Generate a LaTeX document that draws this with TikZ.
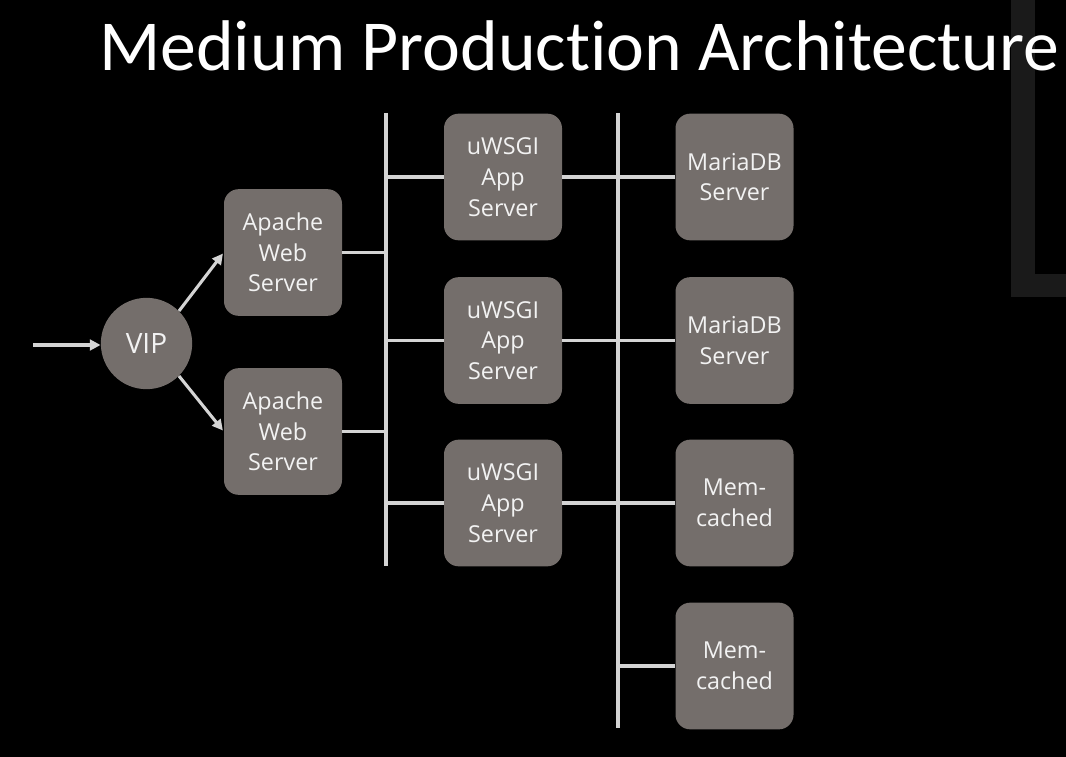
\documentclass[tikz,border=0pt]{standalone}
\usepackage{fontspec}
\setmainfont{Open Sans}
\newfontfamily\titlefont[Ligatures={NoCommon}]{Carlito}
\usetikzlibrary{arrows.meta}
\definecolor{boxgray}{RGB}{116,110,107}
\definecolor{linegray}{RGB}{212,212,212}
\definecolor{txtwhite}{RGB}{242,242,242}
\definecolor{framegray}{RGB}{26,26,26}
\tikzset{
  srv/.style={rectangle, rounded corners=11pt, fill=boxgray, draw=none,
    minimum width=88.5pt, minimum height=95pt, align=center, inner sep=0pt,
    text=txtwhite, font=\fontsize{17.5}{23}\selectfont},
  vipnode/.style={circle, fill=boxgray, draw=none, minimum size=68.5pt, inner sep=0pt,
    text=txtwhite, font=\fontsize{21}{25}\selectfont},
  conn/.style={draw=linegray, line width=2.3pt},
  arr/.style={conn, -{Triangle[length=8pt,width=8pt]}}
}
\begin{document}
\begin{tikzpicture}[x=0.75pt,y=-0.75pt]
\useasboundingbox (0,0) rectangle (1066,756);
\fill[black] (-10,-10) rectangle (1076,766);
% decorative frame at top right
\fill[framegray] (1011,-10) rectangle (1076,297);
\fill[black] (1035,-10) rectangle (1076,274);
% title
\node[anchor=base west, inner sep=0pt, text=white, font=\titlefont\fontsize{53.8}{60}\selectfont] (title) at (99,71) {Medium Production Architecture};
% nodes
\node[vipnode] (vip) at (146.5,343.5) {VIP};
\node[srv] (ap1) at (283,252.5) {Apache\\Web\\Server};
\node[srv] (ap2) at (283,431.5) {Apache\\Web\\Server};
\node[srv] (uw1) at (503,177) {uWSGI\\App\\Server};
\node[srv] (uw2) at (503,340.5) {uWSGI\\App\\Server};
\node[srv] (uw3) at (503,503) {uWSGI\\App\\Server};
\node[srv] (db1) at (734.5,177) {MariaDB\\Server};
\node[srv] (db2) at (734.5,340.5) {MariaDB\\Server};
\node[srv] (mc1) at (734.5,503) {Mem-\\cached};
\node[srv] (mc2) at (734.5,666) {Mem-\\cached};
% buses
\coordinate (b1top) at (386,113);
\coordinate (b1bot) at (386,566);
\coordinate (b2top) at (618,113);
\coordinate (b2bot) at (618,728);
\coordinate (in) at (33,345);
\draw[conn] (b1top) -- (b1bot);
\draw[conn] (b2top) -- (b2bot);
% input arrow
\draw[arr] (in) -- (vip.west |- in);
% VIP to apache
\draw[arr, shorten >=1pt] (vip.45) -- (ap1.west);
\draw[arr, shorten >=1pt] (vip.-45) -- (ap2.west);
% apache to bus 1
\draw[conn] (ap1.east) -- (ap1.east -| b1top);
\draw[conn] (ap2.east) -- (ap2.east -| b1top);
% bus 1 to uwsgi
\draw[conn] (uw1.west -| b1top) -- (uw1.west);
\draw[conn] (uw2.west -| b1top) -- (uw2.west);
\draw[conn] (uw3.west -| b1top) -- (uw3.west);
% uwsgi to right
\draw[conn] (uw1.east) -- (db1.west);
\draw[conn] (uw2.east) -- (db2.west);
\draw[conn] (uw3.east) -- (mc1.west);
\draw[conn] (mc2.west -| b2top) -- (mc2.west);
\end{tikzpicture}
\end{document}
